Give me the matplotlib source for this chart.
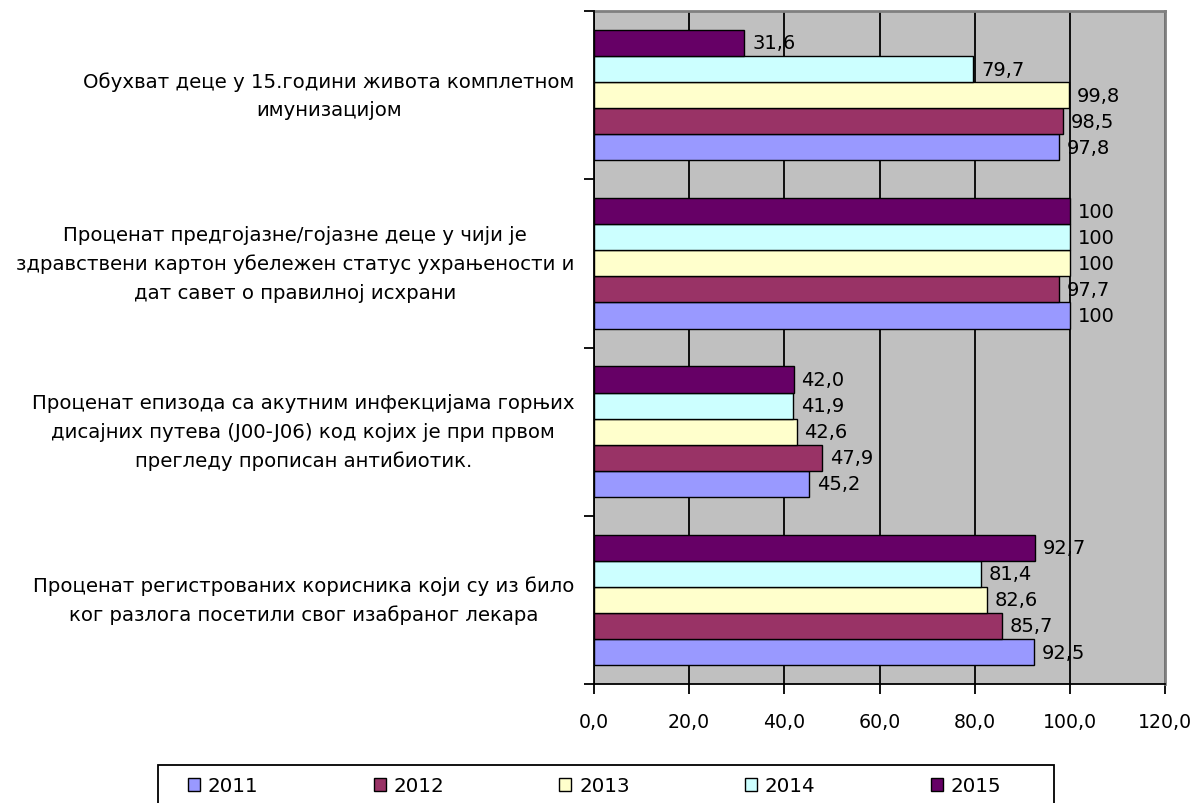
import matplotlib.pyplot as plt
import numpy as np
from matplotlib.patches import Rectangle

# reference text is wide; DejaVu Sans matches its widths better
plt.rcParams['font.family'] = ['DejaVu Sans']

# categories from bottom to top (as drawn)
categories = [
    u"Проценат регистрованих корисника који су из било\nког разлога посетили свог изабраног лекара",
    u"Проценат епизода са акутним инфекцијама горњих\nдисајних путева (J00-J06) код којих је при првом\nпрегледу прописан антибиотик.",
    u"Проценат предгојазне/гојазне деце у чији је\nздравствени картон убележен статус ухрањености и\nдат савет о правилној исхрани",
    u"Обухват деце у 15.години живота комплетном\nимунизацијом",
]
years = ["2011", "2012", "2013", "2014", "2015"]
v2011 = [92.5, 45.2, 100, 97.8]
v2012 = [85.7, 47.9, 97.7, 98.5]
v2013 = [82.6, 42.6, 100, 99.8]
v2014 = [81.4, 41.9, 100, 79.7]
v2015 = [92.7, 42.0, 100, 31.6]
series = [v2011, v2012, v2013, v2014, v2015]
colors = ["#9999FF", "#993366", "#FFFFCC", "#CCFFFF", "#660066"]
xticks = [0, 20, 40, 60, 80, 100, 120]


def fmt(v):
    # 100 is shown without decimals, others with one decimal and a comma
    if v == 100:
        return "100"
    return ("%.1f" % v).replace(".", ",")


fig = plt.figure(figsize=(11.97, 8.04), dpi=100)
W, H = 1197.0, 804.0
ax = fig.add_axes([594 / W, 1 - 685 / H, (1165 - 594) / W, (685 - 12) / H])
ax.set_facecolor("#C0C0C0")

y = np.arange(len(categories))
h = 0.155
handles = []
for i, (vals, col) in enumerate(zip(series, colors)):
    bars = ax.barh(y + (i - 2) * h, vals, height=h, color=col,
                   edgecolor="black", linewidth=1, zorder=3)
    ax.bar_label(bars, labels=[fmt(v) for v in vals], padding=5.5,
                 fontsize=14, zorder=4)
    handles.append(bars)

ax.set_xlim(0, 120)
ax.set_ylim(-0.5, len(categories) - 0.5)
ax.set_xticks(xticks)
ax.set_xticklabels([("%.1f" % t).replace(".", ",") for t in xticks], fontsize=13.6)
ax.tick_params(axis="x", length=7, width=1.3, pad=13)

ax.set_yticks(np.arange(len(categories) + 1) - 0.5)
ax.set_yticklabels([])
ax.tick_params(axis="y", which="major", length=7, width=1.3)
ax.set_yticks(y, minor=True)
ax.set_yticklabels(categories, minor=True, fontsize=14.2)
ax.tick_params(axis="y", which="minor", length=0, pad=14)
for lbl in ax.get_yticklabels(minor=True):
    lbl.set_multialignment("center")
    lbl.set_verticalalignment("center")
    lbl.set_linespacing(1.62)

ax.grid(axis="x", color="black", linewidth=1.3, zorder=1)
ax.set_axisbelow(True)
for s in ["left", "bottom"]:
    ax.spines[s].set_linewidth(1.3)
    ax.spines[s].set_zorder(5)
for s in ["top", "right"]:
    ax.spines[s].set_color("#808080")
    ax.spines[s].set_linewidth(2)

# legend
fig.patches.append(Rectangle((158 / W, -0.01), (1054 - 158) / W, 0.01 + (804 - 766) / H,
                             transform=fig.transFigure, facecolor="white",
                             edgecolor="black", linewidth=1.3))
fig.legend(handles=handles, labels=years, ncol=5, loc="center left",
           bbox_to_anchor=(178 / W, 1 - 787 / H), frameon=False, fontsize=14.3,
           handlelength=0.6, handleheight=0.6, handletextpad=0.4,
           columnspacing=5.8, borderpad=0)

fig.savefig("out.png", dpi=100)
